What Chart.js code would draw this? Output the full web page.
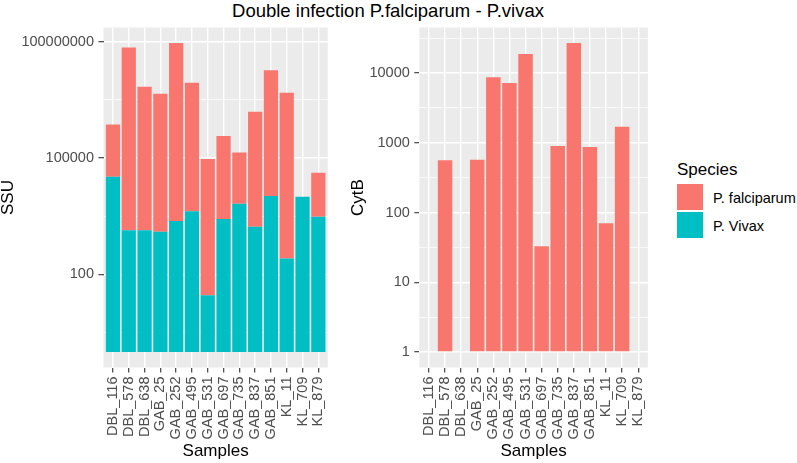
<!DOCTYPE html>
<html>
<head>
<meta charset="utf-8">
<script src="https://cdn.jsdelivr.net/npm/chart.js@4/dist/chart.umd.min.js"></script>
<style>
  html, body { margin: 0; padding: 0; background: #ffffff; }
  body { width: 797px; height: 463px; position: relative; overflow: hidden; font-family: "Liberation Sans", Arial, sans-serif; }
  canvas { position: absolute; top: 0; }
  #title { position: absolute; left: 0; width: 776px; top: 1px; text-align: center; font-size: 18.5px; line-height: 20px; color: #000; }
  .lg { position: absolute; color: #000; }
  .key { position: absolute; width: 26px; height: 26px; }
</style>
</head>
<body>
<div id="title">Double infection P.falciparum - P.vivax</div>
<canvas id="ssu" width="340" height="463" style="left:0px;width:340px;height:463px"></canvas>
<canvas id="cytb" width="320" height="463" style="left:340px;width:320px;height:463px"></canvas>
<div class="lg" style="left:677px;top:161px;font-size:17px;line-height:17px;">Species</div>
<div class="key" style="left:677px;top:184px;background:#F8766D;"></div>
<div class="key" style="left:677px;top:212px;background:#00BFC4;"></div>
<div class="lg" style="left:713px;top:189px;font-size:14.5px;line-height:18px;color:#000;">P. falciparum</div>
<div class="lg" style="left:713px;top:217px;font-size:14.5px;line-height:18px;color:#000;">P. Vivax</div>
<script>
// ---- data ----
const samples = ['DBL_116','DBL_578','DBL_638','GAB_25','GAB_252','GAB_495','GAB_531','GAB_697','GAB_735','GAB_837','GAB_851','KL_11','KL_709','KL_879'];
// SSU copies (stacked on a log10 axis, as in the original plot)
const ssuVivax = [33000, 1380, 1380, 1260, 2400, 4270, 29, 2690, 6600, 1700, 10500, 257, 10000, 3090];
const ssuFalciparum = [22, 51000, 5000, 3600, 38500, 2040, 3240, 138, 21, 912, 1740, 18600, null, 13.5];
// CytB copies (P. falciparum only)
const cytbFalciparum = [null, 560, null, 570, 8700, 7200, 18700, 33, 900, 27000, 870, 70, 1700, null];
// tick labels
const ssuTickValues = [100, 100000, 100000000];
const ssuTickLabels = ['100', '100000', '100000000'];
const cytbTickValues = [1, 10, 100, 1000, 10000];
const cytbTickLabels = ['1', '10', '100', '1000', '10000'];
const seriesNames = ['P. falciparum', 'P. Vivax'];
const colFalc = '#F8766D', colViv = '#00BFC4';

// ---- helpers ----
const lg = v => (v === null || v === undefined) ? null : Math.log10(v);
function pts(arr) { return arr.map((v, i) => ({ x: i, y: lg(v) })); }
function yRange(tops) {
  const mx = Math.max(...tops.filter(v => v !== null));
  return { min: -0.05 * mx, max: 1.05 * mx };
}
function majorMinor(values) {
  const maj = values.map(Math.log10);
  const step = maj[1] - maj[0];
  const minr = maj.map(m => m - step / 2).concat([maj[maj.length - 1] + step / 2]);
  return { maj, minr };
}

const bgPlugin = {
  id: 'panelbg',
  beforeDraw(chart) {
    const { ctx, chartArea: a } = chart;
    ctx.save();
    ctx.fillStyle = '#EBEBEB';
    ctx.fillRect(a.left, a.top, a.right - a.left, a.bottom - a.top);
    ctx.restore();
  }
};

const FONT = "'Liberation Sans', Arial, sans-serif";

function makeChart(id, datasets, tickVals, tickLabels, tops, yw, padRight, yTitle, yTitlePad) {
  const mm = majorMinor(tickVals);
  const r = yRange(tops);
  const isMaj = v => mm.maj.some(m => Math.abs(m - v) < 1e-9);
  return new Chart(document.getElementById(id), {
    type: 'bar',
    data: { datasets },
    plugins: [bgPlugin],
    options: {
      responsive: false,
      animation: false,
      devicePixelRatio: 1,
      layout: { padding: { top: 27.5, right: padRight, bottom: 0, left: 0 } },
      plugins: { legend: { display: false }, tooltip: { enabled: false }, title: { display: false } },
      datasets: { bar: { barPercentage: 0.9, categoryPercentage: 1.0, borderWidth: 0 } },
      scales: {
        x: {
          type: 'linear', stacked: true, offset: false,
          min: -0.6, max: samples.length - 1 + 0.6,
          afterBuildTicks: s => { s.ticks = samples.map((_, i) => ({ value: i })); },
          afterFit: s => { s.height = 95.5; },
          grid: { offset: false, color: '#FFFFFF', lineWidth: 1.4, tickColor: '#333333', tickLength: 5, tickWidth: 1.1 },
          border: { display: false },
          ticks: {
            autoSkip: false, minRotation: 90, maxRotation: 90, padding: 4,
            color: '#4D4D4D', font: { family: FONT, size: 14.5 },
            callback: v => samples[v]
          },
          title: { display: true, text: 'Samples', color: '#000', font: { family: FONT, size: 17, lineHeight: 1.2 }, padding: { top: 0, bottom: 1 } }
        },
        y: {
          type: 'linear', stacked: true, min: r.min, max: r.max,
          afterBuildTicks: s => {
            const all = mm.maj.concat(mm.minr).filter(v => v >= r.min && v <= r.max).sort((a, b) => a - b);
            s.ticks = all.map(v => ({ value: v }));
          },
          afterFit: s => { s.width = yw; },
          grid: {
            color: '#FFFFFF',
            lineWidth: c => (c.tick && isMaj(c.tick.value)) ? 1.4 : 0.7,
            tickColor: c => (c.tick && isMaj(c.tick.value)) ? '#333333' : 'rgba(0,0,0,0)',
            tickLength: 5, tickWidth: 1.1
          },
          border: { display: false },
          ticks: {
            padding: 4.5, color: '#4D4D4D', font: { family: FONT, size: 14.5 },
            callback: v => {
              const k = mm.maj.findIndex(m => Math.abs(m - v) < 1e-9);
              return k >= 0 ? tickLabels[k] : '';
            }
          },
          title: { display: true, text: yTitle, color: '#000', font: { family: FONT, size: 17, lineHeight: 1 }, padding: { top: yTitlePad, bottom: 0 } }
        }
      }
    }
  });
}

// SSU: stacked in log space
const ssuTops = ssuVivax.map((v, i) => (lg(v) || 0) + (lg(ssuFalciparum[i]) || 0));
makeChart('ssu', [
  { label: seriesNames[1], data: pts(ssuVivax), backgroundColor: colViv },
  { label: seriesNames[0], data: pts(ssuFalciparum), backgroundColor: colFalc }
], ssuTickValues, ssuTickLabels, ssuTops, 103.5, 6.5, 'SSU', 0);

const cytbTops = cytbFalciparum.map(v => lg(v));
makeChart('cytb', [
  { label: seriesNames[0], data: pts(cytbFalciparum), backgroundColor: colFalc }
], cytbTickValues, cytbTickLabels, cytbTops, 79.3, 9.3, 'CytB', 9.5);
</script>
</body>
</html>
